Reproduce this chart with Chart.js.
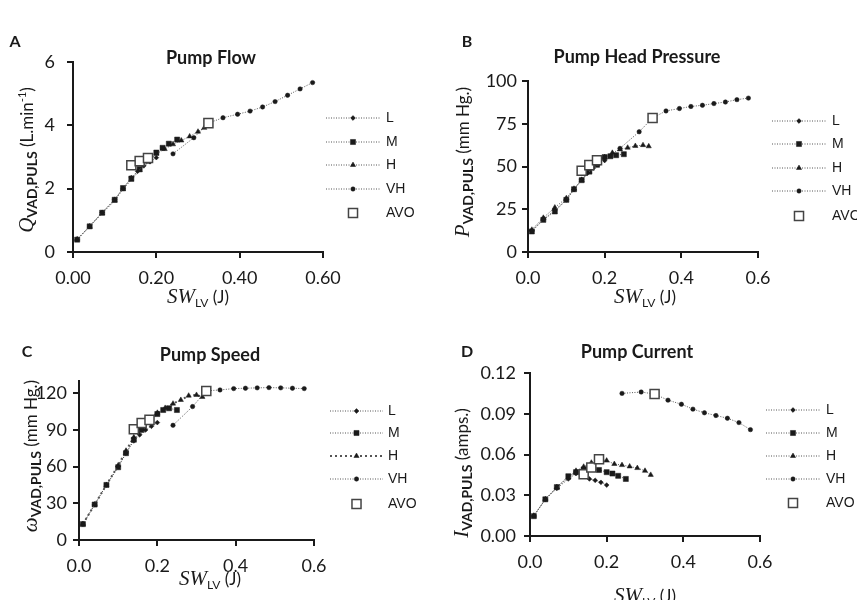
<!DOCTYPE html>
<html>
<head>
<meta charset="utf-8">
<script src="https://cdn.jsdelivr.net/npm/chart.js@4.4.1/dist/chart.umd.min.js"></script>
<style>
  html, body { margin: 0; padding: 0; background: #fff; }
  #wrap { position: relative; width: 857px; height: 600px; overflow: hidden; }
  #wrap canvas { position: absolute; }
</style>
</head>
<body>
<div id="wrap">
  <canvas id="pA" width="428" height="316" style="left:0;top:0;width:428px;height:316px"></canvas>
  <canvas id="pB" width="429" height="316" style="left:428px;top:0;width:429px;height:316px"></canvas>
  <canvas id="pC" width="428" height="300" style="left:0;top:300px;width:428px;height:300px"></canvas>
  <canvas id="pD" width="429" height="300" style="left:428px;top:300px;width:429px;height:300px"></canvas>
</div>
<script>
// stroke work of the left ventricle (J) for each support level
const swL   = [0.01, 0.04, 0.07, 0.10, 0.12, 0.14, 0.155, 0.17, 0.185, 0.20];
const swM   = [0.01, 0.04, 0.07, 0.10, 0.12, 0.14, 0.16, 0.18, 0.20, 0.215, 0.23, 0.25];
const swH   = [0.01, 0.04, 0.07, 0.10, 0.12, 0.14, 0.16, 0.18, 0.20, 0.22, 0.24, 0.26, 0.28, 0.30, 0.315];
const swVH  = [0.24, 0.29, 0.325, 0.36, 0.395, 0.425, 0.455, 0.485, 0.515, 0.545, 0.575];
const swAVO = [0.14, 0.16, 0.18, 0.325];

// A - pump flow (L/min)
const flowL   = [0.40, 0.82, 1.25, 1.66, 2.00, 2.35, 2.55, 2.72, 2.85, 2.98];
const flowM   = [0.39, 0.81, 1.24, 1.65, 2.02, 2.32, 2.62, 2.90, 3.14, 3.29, 3.42, 3.55];
const flowH   = [0.40, 0.80, 1.22, 1.62, 1.98, 2.28, 2.58, 2.85, 3.10, 3.25, 3.40, 3.52, 3.65, 3.80, 3.92];
const flowVH  = [3.10, 3.61, 4.07, 4.24, 4.35, 4.45, 4.58, 4.75, 4.95, 5.15, 5.35];
const flowAVO = [2.74, 2.87, 2.97, 4.07];

// B - pump head pressure (mm Hg)
const pressL   = [12.5, 19, 24.5, 30.5, 36.5, 42.5, 46, 49, 51.5, 53.5];
const pressM   = [12, 18.8, 23.7, 30.5, 36.7, 42, 47, 51, 55.5, 56, 56.6, 57.2];
const pressH   = [13, 20, 26, 31.5, 37, 42, 47, 51.5, 55.5, 58, 60, 61, 62, 62.5, 61.8];
const pressVH  = [60.6, 70.3, 78.4, 82.5, 83.9, 85.1, 85.8, 86.8, 87.7, 89.1, 90.0];
const pressAVO = [47.5, 50.8, 53.7, 78.4];

// C - pump speed
const speedL   = [13, 29, 45, 60, 71, 81, 86, 90, 93, 96];
const speedM   = [13, 29, 45, 59.5, 71, 82, 90, 97, 103, 106.3, 107.7, 106.3];
const speedH   = [13, 29, 45, 61, 73, 84, 92, 98, 104, 108, 111.5, 114.5, 118, 118.6, 117];
const speedVH  = [93.8, 109.1, 121.9, 122.7, 123.8, 124.1, 124.4, 124.6, 124.4, 124.1, 123.8];
const speedAVO = [90.5, 95.7, 98.2, 121.9];

// D - pump current (amps)
const currL   = [0.015, 0.027, 0.035, 0.042, 0.046, 0.0455, 0.042, 0.041, 0.0395, 0.0375];
const currM   = [0.0146, 0.027, 0.036, 0.044, 0.047, 0.049, 0.050, 0.0486, 0.047, 0.046, 0.0443, 0.042];
const currH   = [0.015, 0.027, 0.036, 0.043, 0.048, 0.051, 0.054, 0.0565, 0.0555, 0.053, 0.0522, 0.0512, 0.050, 0.048, 0.045];
const currVH  = [0.105, 0.106, 0.1045, 0.100, 0.097, 0.0934, 0.0907, 0.0887, 0.0867, 0.0835, 0.0783];
const currAVO = [0.0455, 0.0505, 0.0565, 0.1045];

// tick values and labels
const xTickVals  = [0, 0.2, 0.4, 0.6];
const xLabelsA   = ['0.00', '0.20', '0.40', '0.60'];
const xLabels    = ['0.0', '0.2', '0.4', '0.6'];
const flowTicks  = [0, 2, 4, 6];
const pressTicks = [0, 25, 50, 75, 100];
const speedTicks = [0, 30, 60, 90, 120];
const currTicks  = [0, 0.03, 0.06, 0.09, 0.12];
const currLabels = ['0.00', '0.03', '0.06', '0.09', '0.12'];
const levels = ['L', 'M', 'H', 'VH', 'AVO'];

const INK = '#1a1a1a';
const LINE = '#555';
const styles = {
  L:   { pointStyle: 'rectRot',  pointRadius: 2.4 },
  M:   { pointStyle: 'rect',     pointRadius: 3.6 },
  H:   { pointStyle: 'triangle', pointRadius: 3 },
  VH:  { pointStyle: 'circle',   pointRadius: 2.2 },
  AVO: { pointStyle: 'rect',     pointRadius: 6.4 }
};

function pts(xs, ys) {
  return xs.map((x, i) => ({ x: x, y: ys[i] }));
}

function lineSet(label, xs, ys, order, dash, width) {
  return Object.assign({
    label: label,
    data: pts(xs, ys),
    showLine: true,
    clip: false,
    order: order,
    borderColor: LINE,
    borderWidth: width || 1,
    borderDash: dash || [1, 1.5],
    pointBackgroundColor: INK,
    pointBorderColor: INK,
    pointBorderWidth: 0.5
  }, styles[label]);
}

function avoSet(ys) {
  return Object.assign({
    label: 'AVO',
    data: pts(swAVO, ys),
    showLine: false,
    clip: false,
    order: 0,
    pointBackgroundColor: '#fff',
    pointBorderColor: '#444',
    pointBorderWidth: 1.5
  }, styles.AVO);
}

function drawMarker(ctx, style, x, y, r, fill, stroke, lw) {
  ctx.save();
  ctx.beginPath();
  if (style === 'circle') {
    ctx.arc(x, y, r, 0, Math.PI * 2);
  } else if (style === 'rect') {
    const s = r * Math.SQRT1_2;
    ctx.rect(x - s, y - s, 2 * s, 2 * s);
  } else if (style === 'rectRot') {
    ctx.moveTo(x, y - r); ctx.lineTo(x + r, y); ctx.lineTo(x, y + r); ctx.lineTo(x - r, y);
    ctx.closePath();
  } else if (style === 'triangle') {
    ctx.moveTo(x, y - r); ctx.lineTo(x + r * 0.866, y + r / 2); ctx.lineTo(x - r * 0.866, y + r / 2);
    ctx.closePath();
  }
  ctx.fillStyle = fill;
  ctx.fill();
  if (lw) { ctx.lineWidth = lw; ctx.strokeStyle = stroke; ctx.stroke(); }
  ctx.restore();
}

// text made of several runs (italic symbol, subscript, unit...)
function drawRich(ctx, segs, cx, baseY, rot) {
  ctx.save();
  ctx.translate(cx, baseY);
  if (rot) ctx.rotate(rot);
  let w = 0;
  segs.forEach(s => { ctx.font = s.f; w += ctx.measureText(s.t).width; });
  let x = -w / 2;
  ctx.textAlign = 'left';
  ctx.textBaseline = 'alphabetic';
  ctx.fillStyle = INK;
  segs.forEach(s => {
    ctx.font = s.f;
    ctx.fillText(s.t, x, s.dy || 0);
    x += ctx.measureText(s.t).width;
  });
  ctx.restore();
}

const SYM = 'italic 21px "Liberation Serif"';
const SUB = 'bold 14px Lato';
const UNIT = '17px Lato';
const xTitleSegs = [
  { t: 'SW', f: SYM },
  { t: 'LV', f: '12px Lato', dy: 4 },
  { t: ' (J)', f: UNIT }
];
function yTitleSegs(sym, unit, sup, close) {
  const segs = [{ t: sym, f: SYM }, { t: 'VAD,PULS', f: SUB, dy: 4 }, { t: unit, f: UNIT }];
  if (sup) segs.push({ t: sup, f: '11px Lato', dy: -7 });
  if (close) segs.push({ t: close, f: UNIT });
  return segs;
}

const panels = [
  {
    id: 'pA', ox: 0, oy: 0, w: 428, h: 316,
    letter: 'A', title: 'Pump Flow',
    area: { l: 73, r: 323, t: 62, b: 252 },
    yMax: 6, yTicks: flowTicks, yLabels: flowTicks.map(String), yPad: 12,
    xLabels: xLabelsA,
    sets: [avoSet(flowAVO), lineSet('L', swL, flowL, 1), lineSet('M', swM, flowM, 2),
           lineSet('H', swH, flowH, 3), lineSet('VH', swVH, flowVH, 4)],
    letterPos: [15, 42], titlePos: [211, 58],
    yTitle: yTitleSegs('Q', ' (L.min', '-1', ')'), yTitlePos: [33, 160],
    xTitlePos: [198, 303],
    legend: { x1: 326, x2: 380, tx: 386, ys: [118, 142, 165, 189, 213] }
  },
  {
    id: 'pB', ox: 428, oy: 0, w: 429, h: 316,
    letter: 'B', title: 'Pump Head Pressure',
    area: { l: 528, r: 758, t: 81, b: 252 },
    yMax: 100, yTicks: pressTicks, yLabels: pressTicks.map(String), yPad: 5,
    xLabels: xLabels,
    sets: [avoSet(pressAVO), lineSet('L', swL, pressL, 1), lineSet('M', swM, pressM, 2),
           lineSet('H', swH, pressH, 3), lineSet('VH', swVH, pressVH, 4)],
    letterPos: [467, 42], titlePos: [637, 57],
    yTitle: yTitleSegs('P', ' (mm Hg.)'), yTitlePos: [469, 162],
    xTitlePos: [645, 303],
    legend: { x1: 772, x2: 826, tx: 832, ys: [121, 144, 168, 191, 216] }
  },
  {
    id: 'pC', ox: 0, oy: 300, w: 428, h: 300,
    letter: 'C', title: 'Pump Speed',
    area: { l: 79, r: 314, t: 381, b: 540 },
    yMax: 130, yTicks: speedTicks, yLabels: speedTicks.map(String), yPad: 6,
    xLabels: xLabels,
    sets: [avoSet(speedAVO), lineSet('L', swL, speedL, 1), lineSet('M', swM, speedM, 2),
           lineSet('H', swH, speedH, 3, [2, 3], 2), lineSet('VH', swVH, speedVH, 4)],
    hDash: [2, 3], hWidth: 2,
    letterPos: [27, 352], titlePos: [210, 355],
    yTitle: yTitleSegs('\u03C9', ' (mm Hg.)'), yTitlePos: [37, 456],
    xTitlePos: [210, 585],
    legend: { x1: 330, x2: 383, tx: 388, ys: [411, 433, 456, 479, 504] }
  },
  {
    id: 'pD', ox: 428, oy: 300, w: 429, h: 300,
    letter: 'D', title: 'Pump Current',
    area: { l: 530, r: 760, t: 373, b: 536 },
    yMax: 0.12, yTicks: currTicks, yLabels: currLabels, yPad: 8,
    xLabels: xLabels,
    sets: [avoSet(currAVO), lineSet('L', swL, currL, 1), lineSet('M', swM, currM, 2),
           lineSet('H', swH, currH, 3), lineSet('VH', swVH, currVH, 4)],
    letterPos: [467, 352], titlePos: [637, 352],
    yTitle: yTitleSegs('I', ' (amps.)'), yTitlePos: [468, 473],
    xTitlePos: [645, 602],
    legend: { x1: 766, x2: 820, tx: 826, ys: [410, 433, 456, 479, 503] }
  }
];

function makePanel(p) {
  const decor = {
    id: 'decor' + p.letter,
    afterDraw(chart) {
      const ctx = chart.ctx;
      ctx.save();
      ctx.translate(-p.ox, -p.oy);
      ctx.fillStyle = INK;
      ctx.textBaseline = 'middle';
      ctx.textAlign = 'center';
      ctx.font = 'bold 16px Lato';
      ctx.fillText(p.letter, p.letterPos[0], p.letterPos[1]);
      ctx.font = 'bold 18px Lato';
      ctx.fillText(p.title, p.titlePos[0], p.titlePos[1]);
      drawRich(ctx, xTitleSegs, p.xTitlePos[0], p.xTitlePos[1], 0);
      drawRich(ctx, p.yTitle, p.yTitlePos[0], p.yTitlePos[1], -Math.PI / 2);

      // legend: dotted line with the series marker, then the name
      const lg = p.legend;
      levels.forEach((name, i) => {
        const y = lg.ys[i];
        const mx = (lg.x1 + lg.x2) / 2;
        if (name !== 'AVO') {
          ctx.save();
          ctx.strokeStyle = LINE;
          const isH = name === 'H' && p.hDash;
          ctx.lineWidth = isH ? p.hWidth : 1;
          ctx.setLineDash(isH ? p.hDash : [1, 1.5]);
          ctx.beginPath();
          ctx.moveTo(lg.x1, y);
          ctx.lineTo(lg.x2, y);
          ctx.stroke();
          ctx.restore();
          drawMarker(ctx, styles[name].pointStyle, mx, y, styles[name].pointRadius, INK, INK, 0.5);
        } else {
          drawMarker(ctx, 'rect', mx, y, styles.AVO.pointRadius, '#fff', '#444', 1.5);
        }
        ctx.font = '14px "Liberation Sans"';
        ctx.textAlign = 'left';
        ctx.textBaseline = 'middle';
        ctx.fillStyle = INK;
        ctx.fillText(name, lg.tx, y);
      });
      ctx.restore();
    }
  };

  const axisGrid = { display: true, drawOnChartArea: false, drawTicks: true, tickLength: 6, color: INK, lineWidth: 2 };
  const axisBorder = { display: true, color: INK, width: 2 };
  const tickFont = { family: 'Lato', size: 18 };

  return new Chart(document.getElementById(p.id), {
    type: 'scatter',
    data: { datasets: p.sets },
    options: {
      responsive: false,
      animation: false,
      events: [],
      layout: {
        autoPadding: false,
        padding: { top: p.area.t - p.oy, right: p.ox + p.w - p.area.r, bottom: 0, left: 0 }
      },
      plugins: {
        legend: { display: false },
        title: { display: false },
        tooltip: { enabled: false }
      },
      scales: {
        x: {
          type: 'linear', min: 0, max: 0.6,
          afterFit: s => { s.height = p.oy + p.h - p.area.b; },
          afterBuildTicks: s => { s.ticks = xTickVals.map(v => ({ value: v })); },
          ticks: { callback: (v, i) => p.xLabels[i], font: tickFont, color: INK, padding: 9, maxRotation: 0, autoSkip: false },
          grid: axisGrid, border: axisBorder
        },
        y: {
          type: 'linear', min: 0, max: p.yMax,
          afterFit: s => { s.width = p.area.l - p.ox; },
          afterBuildTicks: s => { s.ticks = p.yTicks.map(v => ({ value: v })); },
          ticks: { callback: (v, i) => p.yLabels[i], font: tickFont, color: INK, padding: p.yPad, autoSkip: false },
          grid: axisGrid, border: axisBorder
        }
      }
    },
    plugins: [decor]
  });
}

panels.forEach(makePanel);
</script>
</body>
</html>
